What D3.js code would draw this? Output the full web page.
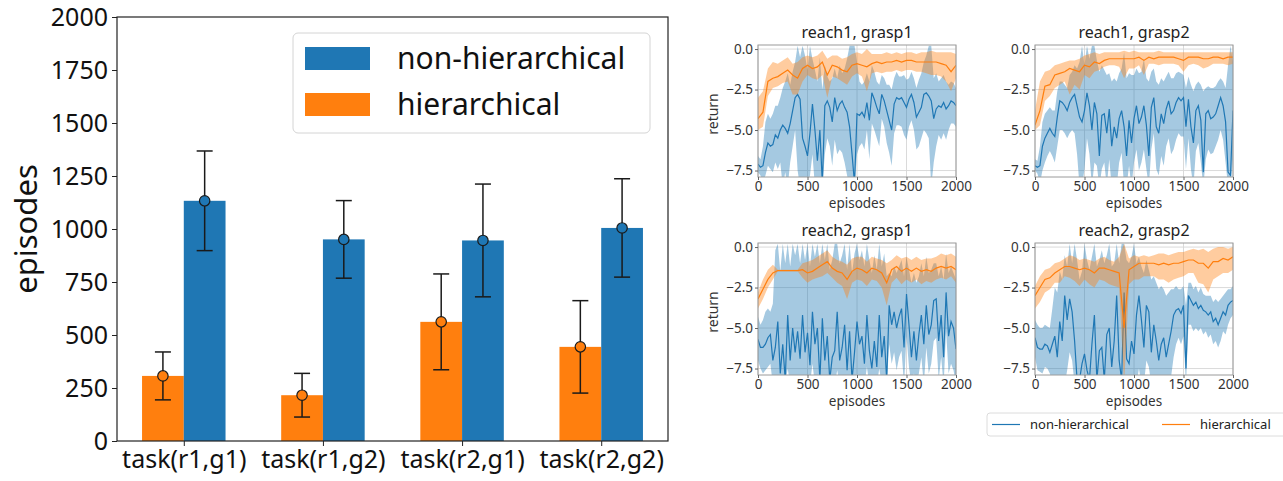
<!DOCTYPE html>
<html>
<head>
<meta charset="utf-8">
<script src="https://cdn.jsdelivr.net/npm/d3@7"></script>
<style>
body { margin: 0; background: #fff; }
svg { display: block; font-family: 'Noto Sans', sans-serif; }
</style>
</head>
<body>
<svg id="chart" width="1283" height="481"></svg>
<script>
// ---- bar chart data ----
var categories = ['task(r1,g1)', 'task(r1,g2)', 'task(r2,g1)', 'task(r2,g2)'];
var hierMean = [307, 216, 562, 444];
var hierStd = [113, 103, 226, 218];
var nonHierMean = [1133, 951, 946, 1005];
var nonHierStd = [235, 183, 266, 232];
var barYTicks = [0, 250, 500, 750, 1000, 1250, 1500, 1750, 2000];
var seriesNames = ['non-hierarchical', 'hierarchical'];

// ---- learning curve data ----
var panelTitles = ['reach1, grasp1', 'reach1, grasp2', 'reach2, grasp1', 'reach2, grasp2'];
var smallXTicks = [0, 500, 1000, 1500, 2000];
var smallYTicks = [0, -2.5, -5, -7.5];
var blueEpisodes = d3.range(0, 2001, 25);
var orangeEpisodes = d3.range(0, 2001, 50);

var p1BlueMean = [-7.1, -7.3, -7.2, -6.4, -5.8, -6.0, -5.9, -5.3, -5.5, -5.0,
    -4.7, -4.9, -5.2, -4.6, -3.8, -3.0, -2.8, -3.1, -5.5, -6.0,
    -6.6, -5.2, -3.4, -5.0, -6.9, -5.0, -8.3, -3.5, -3.2, -3.6,
    -4.5, -3.0, -3.8, -3.4, -3.2, -3.6, -3.9, -4.8, -6.5, -8.3,
    -4.0, -4.1, -3.9, -4.2, -3.3, -4.4, -2.7, -3.1, -3.6, -4.0,
    -2.8, -3.2, -3.8, -4.4, -5.0, -3.4, -3.0, -3.1, -3.0, -3.3,
    -3.6, -3.1, -2.8, -3.3, -4.2, -3.9, -3.6, -2.8, -2.7, -2.9,
    -3.2, -4.3, -3.7, -3.5, -3.6, -3.3, -3.7, -3.5, -3.2, -3.3, -3.5];
var p1BlueHi = [-6.6, -6.8, -6.0, -4.5, -4.0, -4.3, -4.0, -3.5, -3.5, -3.0,
    -2.4, -2.0, -1.5, -2.2, -1.4, -0.8, 0.2, -0.5, 0.2, -0.4,
    -1.3, 0.2, -0.6, -1.3, -2.0, -0.5, -2.5, -1.0, -1.7, -2.0,
    -1.8, -1.2, -1.8, -1.0, -1.5, -1.2, -0.6, 0.2, 0.2, 0.2,
    -0.8, -2.0, -2.2, -2.0, -1.5, -2.0, -1.0, -1.4, -2.0, -2.2,
    -1.6, -1.8, -2.2, -2.2, -2.5, -1.8, -1.4, -1.7, -1.7, -1.6,
    -1.9, -1.8, -1.4, -1.8, -2.4, -1.9, -1.5, -0.8, -0.4, 0.2,
    0.2, -1.8, -1.5, -2.0, -1.8, -1.6, -2.0, -2.2, -2.0, -2.1, -2.4];
var p1BlueLo = [-7.6, -7.8, -8.2, -7.8, -7.2, -7.4, -7.6, -7.0, -7.4, -7.0,
    -8.5, -7.6, -8.5, -7.0, -6.0, -5.0, -7.5, -8.5, -8.5, -8.5,
    -8.5, -7.8, -6.5, -8.5, -8.5, -8.5, -8.5, -6.5, -5.5, -6.0,
    -7.2, -5.6, -6.5, -6.2, -6.4, -7.0, -7.8, -8.5, -8.5, -8.5,
    -6.5, -6.0, -5.8, -6.2, -5.0, -6.8, -4.6, -5.0, -5.5, -6.0,
    -4.3, -4.8, -5.8, -6.4, -7.2, -5.2, -4.7, -4.7, -4.8, -5.3,
    -5.6, -4.8, -4.4, -5.0, -6.2, -6.0, -5.5, -5.0, -5.2, -5.5,
    -8.5, -7.0, -6.0, -5.3, -5.6, -5.2, -5.6, -5.0, -4.6, -4.6, -4.8];
var p1OrangeMean = [-4.3, -3.9, -2.0, -1.8, -1.7, -1.5, -1.3, -1.6, -1.8, -1.2,
    -1.0, -1.2, -1.1, -0.8, -1.6, -1.0, -1.1, -1.3, -1.4, -1.0,
    -0.9, -1.0, -1.1, -0.9, -0.8, -0.9, -0.8, -0.8, -0.7, -0.8,
    -0.7, -0.7, -0.8, -0.8, -0.8, -0.8, -0.8, -0.9, -1.0, -1.4, -1.0];
var p1OrangeHi = [-3.0, -2.6, -1.2, -0.8, -0.9, -0.7, -0.5, -0.9, -0.8, -0.5,
    -0.4, -0.5, -0.4, -0.1, -0.6, -0.4, -0.4, -0.6, -0.5, -0.3,
    -0.2, -0.3, 0.0, -0.3, -0.3, -0.3, -0.2, -0.3, -0.2, -0.3,
    -0.2, -0.2, -0.3, -0.2, -0.2, -0.1, -0.2, -0.2, -0.2, -0.2, -0.3];
var p1OrangeLo = [-5.0, -4.8, -2.9, -2.4, -2.3, -2.1, -2.0, -2.8, -2.8, -2.0,
    -1.6, -1.8, -1.9, -1.6, -3.0, -1.7, -1.8, -2.0, -2.2, -1.7,
    -1.5, -1.7, -2.6, -1.5, -1.4, -1.5, -1.4, -1.4, -1.3, -1.4,
    -1.3, -1.3, -1.4, -1.4, -1.5, -1.6, -1.6, -1.7, -2.0, -2.6, -1.8];

var p2BlueMean = [-7.2, -7.3, -7.2, -6.0, -5.5, -5.2, -4.9, -5.2, -5.4, -4.2,
    -3.2, -3.3, -3.5, -3.8, -3.3, -3.0, -2.8, -3.5, -4.2, -4.5,
    -3.8, -2.7, -3.5, -5.0, -3.3, -4.0, -6.6, -4.1, -4.0, -5.2,
    -3.7, -6.0, -4.8, -5.5, -4.3, -3.8, -4.8, -6.6, -4.4, -5.8,
    -4.3, -3.5, -4.6, -4.2, -3.5, -4.7, -6.6, -3.6, -3.0, -4.8,
    -5.2, -4.0, -4.6, -3.7, -3.2, -4.0, -3.8, -3.3, -3.0, -3.2,
    -3.0, -4.8, -3.1, -4.8, -5.8, -3.8, -3.5, -4.4, -7.6, -4.0,
    -3.8, -4.3, -4.2, -4.0, -3.5, -3.0, -3.5, -4.5, -7.6, -7.8, -3.8];
var p2BlueHi = [-6.8, -6.9, -6.0, -4.5, -4.0, -3.8, -3.6, -3.8, -3.8, -2.6,
    -2.0, -2.0, -2.2, -2.4, -1.6, -1.4, -1.0, -1.2, -0.8, 0.2,
    -1.0, 0.2, -0.6, 0.2, 0.2, -0.7, -1.4, -1.0, -1.3, -1.6,
    -1.5, -2.0, -1.8, -2.0, -1.5, -1.2, -0.2, -1.8, -1.5, -1.6,
    -1.6, -1.2, -1.5, -1.4, -0.6, -1.8, -2.0, -1.4, -1.2, -2.0,
    -2.2, -1.8, -2.0, -1.7, -1.4, -1.8, -1.8, -1.5, -1.4, -1.5,
    -1.6, -2.4, -1.7, -2.2, -2.6, -2.2, -2.0, -2.2, -2.6, -2.4,
    -2.3, -2.4, -2.4, -2.3, -2.0, -1.8, -2.0, -2.4, -1.0, 0.2, -0.8];
var p2BlueLo = [-7.5, -7.7, -8.3, -7.5, -7.0, -6.6, -6.3, -6.6, -7.0, -6.0,
    -5.0, -5.0, -5.2, -5.5, -5.2, -5.0, -5.2, -6.5, -8.5, -8.5,
    -7.4, -5.5, -6.5, -8.5, -7.0, -7.2, -8.5, -7.4, -7.0, -8.5,
    -6.8, -8.5, -8.0, -8.5, -7.0, -6.4, -8.5, -8.5, -7.2, -8.5,
    -7.0, -6.2, -7.5, -7.0, -6.2, -7.4, -8.5, -6.2, -5.2, -7.4,
    -7.8, -6.6, -7.2, -6.0, -5.5, -6.5, -6.2, -5.6, -5.2, -5.4,
    -5.4, -7.4, -5.5, -7.4, -8.5, -6.3, -5.8, -7.0, -8.5, -6.8,
    -6.2, -6.5, -6.4, -6.0, -5.6, -5.0, -5.6, -7.0, -8.5, -8.5, -6.8];
var p2OrangeMean = [-4.7, -3.8, -2.3, -2.2, -1.6, -1.5, -1.4, -1.2, -1.3, -1.4,
    -1.0, -1.1, -0.8, -0.9, -0.7, -0.6, -0.6, -0.6, -0.6, -0.6,
    -0.6, -0.5, -0.7, -0.5, -0.6, -0.5, -0.5, -0.5, -0.5, -0.6,
    -0.7, -0.5, -0.5, -0.5, -0.6, -0.6, -0.5, -0.5, -0.6, -0.5, -0.5];
var p2OrangeHi = [-3.8, -2.0, -1.4, -1.3, -1.0, -0.9, -0.8, -0.7, -0.7, -0.6,
    -0.4, -0.3, -0.2, -0.3, -0.2, -0.2, -0.2, -0.2, -0.1, -0.2,
    -0.1, -0.2, -0.2, -0.2, -0.2, -0.1, -0.2, -0.2, -0.2, -0.2,
    -0.2, -0.2, -0.2, -0.2, -0.2, -0.2, -0.2, -0.2, -0.2, -0.2, -0.2];
var p2OrangeLo = [-5.0, -4.7, -3.2, -2.9, -2.4, -2.2, -2.0, -2.8, -2.2, -2.5,
    -1.6, -1.8, -1.4, -1.3, -1.1, -1.0, -1.0, -1.1, -1.8, -1.2,
    -1.2, -1.0, -1.6, -0.9, -0.9, -1.0, -0.9, -0.9, -0.9, -1.0,
    -1.4, -1.0, -0.9, -1.0, -1.2, -1.1, -0.9, -0.9, -0.9, -1.0, -0.9];

var p3BlueMean = [-5.7, -6.2, -6.2, -6.0, -5.6, -5.4, -7.0, -6.2, -4.6, -7.8,
    -6.0, -8.2, -4.2, -7.0, -5.0, -6.5, -5.2, -6.9, -4.2, -6.5,
    -5.3, -7.3, -4.0, -6.0, -5.0, -8.2, -4.4, -7.0, -5.5, -8.2,
    -6.8, -6.4, -4.0, -7.0, -6.2, -4.8, -7.6, -5.2, -8.2, -6.5,
    -4.6, -6.0, -5.5, -7.2, -4.2, -6.4, -7.5, -5.8, -7.4, -4.2,
    -6.8, -5.5, -8.2, -3.6, -4.8, -4.0, -5.0, -4.3, -3.8, -6.2,
    -2.9, -4.8, -6.8, -5.2, -7.0, -5.4, -4.2, -6.0, -3.6, -5.4,
    -4.8, -3.3, -3.2, -5.8, -4.2, -6.8, -2.8, -5.5, -4.6, -5.0, -6.3];
var p3BlueHi = [-4.3, -4.8, -4.5, -4.0, -3.8, -4.0, -3.5, -0.2, 0.2, -1.5,
    0.2, -1.0, 0.2, -1.2, 0.2, -0.5, 0.2, -1.0, 0.2, -0.8,
    0.2, -1.2, 0.2, -0.6, 0.2, -1.0, 0.2, -0.8, 0.2, -1.4,
    -0.8, 0.2, 0.2, -1.0, -0.5, 0.2, -1.4, 0.2, -1.6, -0.4,
    0.2, -0.8, -0.2, -1.2, 0.2, -0.8, -1.6, -0.5, -1.4, 0.2,
    -1.2, -0.4, -1.8, -1.6, -1.8, -1.2, -1.6, -1.2, -0.8, -1.8,
    -0.6, -1.4, -2.2, -1.6, -2.2, -1.8, -1.0, -1.8, -0.6, -1.6,
    -1.4, -1.0, -1.0, -1.8, -1.2, -2.0, -0.4, -1.6, -1.2, -1.6, -2.0];
var p3BlueLo = [-7.0, -7.5, -7.8, -7.6, -7.4, -7.2, -8.5, -8.5, -8.5, -8.5,
    -8.5, -8.5, -7.5, -8.5, -8.5, -8.5, -8.5, -8.5, -8.5, -8.5,
    -8.5, -8.5, -7.2, -8.5, -8.5, -8.5, -8.5, -8.5, -8.5, -8.5,
    -8.5, -8.5, -7.6, -8.5, -8.5, -8.5, -8.5, -8.5, -8.5, -8.5,
    -7.8, -8.5, -8.5, -8.5, -7.4, -8.5, -8.5, -8.5, -8.5, -7.5,
    -8.5, -8.5, -8.5, -6.0, -7.2, -6.5, -7.6, -6.8, -6.4, -8.5,
    -5.5, -7.4, -8.5, -7.8, -8.5, -7.8, -6.8, -8.5, -6.2, -7.8,
    -7.2, -5.8, -5.6, -8.2, -6.8, -8.5, -5.2, -7.8, -7.2, -7.6, -8.5];
var p3OrangeMean = [-3.2, -2.6, -2.0, -1.6, -1.45, -1.45, -1.45, -1.45, -1.45, -1.4,
    -1.6, -1.5, -1.3, -1.1, -0.9, -1.3, -1.5, -1.6, -2.0, -1.5,
    -1.3, -1.4, -1.6, -1.3, -1.4, -1.6, -2.2, -1.4, -1.2, -1.5,
    -1.3, -1.5, -1.3, -1.5, -1.4, -1.5, -1.3, -1.2, -1.3, -1.2, -1.4];
var p3OrangeHi = [-2.8, -2.0, -1.4, -1.1, -1.4, -1.4, -1.4, -1.4, -1.4, -1.0,
    -0.9, -0.8, -0.6, -0.4, -0.2, -0.6, -0.8, -0.9, -1.1, -0.7,
    -0.6, -0.6, -0.9, -0.6, -0.7, -0.8, -1.0, -0.8, -0.5, -0.7,
    -0.6, -0.8, -0.6, -0.8, -0.7, -0.7, -0.6, -0.4, -0.5, -0.4, -0.6];
var p3OrangeLo = [-3.8, -3.2, -2.5, -2.0, -1.5, -1.5, -1.5, -1.5, -1.5, -1.9,
    -2.2, -2.0, -1.9, -1.8, -1.6, -1.9, -2.2, -2.4, -3.2, -2.2,
    -2.0, -2.1, -2.4, -2.0, -2.1, -2.5, -3.6, -2.2, -1.9, -2.3,
    -2.0, -2.2, -2.0, -2.3, -2.1, -2.2, -2.0, -1.9, -2.0, -1.8, -2.2];

var p4BlueMean = [-5.6, -6.2, -6.3, -6.3, -6.0, -6.1, -6.5, -6.0, -5.5, -6.8,
    -4.6, -5.8, -3.0, -4.5, -3.2, -4.0, -5.8, -8.2, -8.2, -7.2,
    -6.6, -7.6, -8.2, -6.0, -4.2, -8.2, -6.4, -6.2, -8.2, -5.4,
    -5.0, -7.4, -5.8, -3.0, -7.0, -8.2, -2.8, -6.9, -7.2, -5.8,
    -6.6, -4.2, -3.0, -4.5, -6.2, -3.6, -4.0, -6.5, -4.8, -5.8,
    -7.0, -6.0, -5.6, -6.8, -6.0, -5.2, -4.2, -3.9, -3.8, -4.1,
    -3.6, -7.5, -3.0, -3.3, -3.6, -3.4, -3.8, -3.6, -3.9, -4.0,
    -4.2, -4.0, -4.6, -4.4, -4.8, -4.4, -4.0, -4.2, -3.6, -3.4, -3.3];
var p4BlueHi = [-4.5, -4.8, -5.0, -5.0, -4.8, -4.9, -5.0, -3.8, -2.5, -2.8,
    -1.5, -2.0, -0.5, -1.2, 0.2, -1.0, 0.2, -0.8, -2.0, -1.5,
    0.2, -0.8, -1.4, -0.6, 0.2, -1.2, -0.8, -0.2, -1.0, -0.5,
    0.2, -1.2, -1.0, 0.2, -1.0, 0.2, 0.2, -0.8, -1.0, -0.6,
    0.2, -1.0, -0.6, -1.2, -1.6, -0.8, -1.4, -2.0, -1.8, -2.2,
    -2.6, -2.4, -2.6, -3.0, -2.8, -2.6, -2.6, -2.4, -2.6, -2.6,
    -2.4, -3.6, -2.2, -2.2, -2.6, -2.4, -2.8, -2.5, -2.9, -3.0,
    -3.0, -3.0, -3.4, -3.2, -3.4, -3.2, -3.0, -2.8, -2.6, -2.6, -2.4];
var p4BlueLo = [-6.8, -7.6, -7.7, -7.8, -7.4, -7.5, -7.8, -8.5, -8.5, -8.5,
    -8.5, -8.5, -8.5, -7.6, -6.5, -7.0, -8.5, -8.5, -8.5, -8.5,
    -8.5, -8.5, -8.5, -8.5, -8.5, -8.5, -8.5, -8.5, -8.5, -8.5,
    -8.5, -8.5, -8.5, -8.5, -8.5, -8.5, -8.5, -8.5, -8.5, -8.5,
    -8.5, -8.5, -7.5, -8.5, -8.5, -7.0, -7.4, -8.5, -8.5, -8.5,
    -8.5, -8.5, -8.5, -8.5, -8.5, -8.0, -6.8, -6.0, -5.6, -6.0,
    -5.5, -8.5, -4.8, -4.8, -5.2, -5.0, -5.2, -5.0, -5.4, -5.2,
    -5.6, -5.4, -6.0, -5.8, -6.2, -5.8, -5.2, -5.4, -4.8, -4.4, -4.2];
var p4OrangeMean = [-3.0, -2.5, -2.0, -1.9, -1.6, -1.4, -1.2, -1.2, -1.3, -1.4,
    -1.3, -1.4, -1.6, -1.3, -1.3, -1.4, -1.5, -1.6, -5.0, -1.4,
    -1.2, -1.0, -1.0, -1.0, -1.0, -1.1, -1.0, -1.1, -1.0, -1.0,
    -0.9, -0.8, -0.8, -1.0, -1.0, -1.3, -0.9, -0.9, -0.7, -0.8, -0.6];
var p4OrangeHi = [-2.4, -1.8, -1.4, -1.3, -1.0, -0.9, -0.7, -0.5, -0.6, -0.8,
    -0.7, -0.8, -0.9, -0.7, -0.6, -0.8, -0.9, -0.6, 0.2, -0.7,
    -0.5, -0.6, -0.5, -0.6, -0.5, -0.4, -0.4, -0.5, -0.4, -0.3,
    -0.3, -0.2, -0.1, -0.2, -0.1, -0.3, -0.1, 0.0, 0.0, -0.1, 0.0];
var p4OrangeLo = [-3.8, -3.4, -2.8, -2.6, -2.2, -2.2, -1.8, -1.9, -2.1, -2.4,
    -2.0, -2.3, -2.5, -2.0, -2.1, -2.3, -2.4, -2.5, -8.5, -2.3,
    -2.0, -2.0, -1.8, -1.8, -1.8, -2.0, -2.0, -2.2, -2.0, -1.9,
    -1.8, -1.6, -1.6, -2.2, -2.3, -2.8, -2.0, -1.8, -1.6, -1.6, -1.4];

var BLUE = '#1f77b4', ORANGE = '#ff7f0e';
var svg = d3.select('#chart');

// ================= bar chart =================
var bx = d3.scaleLinear().domain([-0.48, 3.48]).range([117, 668]);
var by = d3.scaleLinear().domain([0, 2000]).range([441, 17]);
var bw = bx(0.3) - bx(0);

var yAxis = svg.append('g')
    .attr('transform', 'translate(117,0)')
    .call(d3.axisLeft(by).tickValues(barYTicks).tickSize(5).tickPadding(4).tickFormat(d3.format('d')));
var xAxis = svg.append('g')
    .attr('transform', 'translate(0,441)')
    .call(d3.axisBottom(bx).tickValues([0, 1, 2, 3]).tickSize(5).tickPadding(4)
        .tickFormat(function(d) { return categories[d]; }));
[yAxis, xAxis].forEach(function(a) {
    a.select('.domain').remove();
    a.selectAll('text').style('font-size', '25px').attr('fill', '#111')
        .style('font-family', "'Noto Sans', sans-serif");
    a.selectAll('line').attr('stroke', '#222');
});

function drawBars(means, offset, color) {
    svg.append('g').selectAll('rect').data(means).enter().append('rect')
        .attr('x', function(d, i) { return bx(i + offset); })
        .attr('y', function(d) { return by(d); })
        .attr('width', bw)
        .attr('height', function(d) { return by(0) - by(d); })
        .attr('fill', color);
}
function drawErrors(means, stds, offset, color) {
    var g = svg.append('g');
    means.forEach(function(m, i) {
        var cx = bx(i + offset + 0.15);
        var top = by(m + stds[i]), bot = by(m - stds[i]);
        g.append('line').attr('x1', cx).attr('x2', cx).attr('y1', top).attr('y2', bot)
            .attr('stroke', '#1a1a1a').attr('stroke-width', 1.5);
        [top, bot].forEach(function(yy) {
            g.append('line').attr('x1', cx - 8).attr('x2', cx + 8).attr('y1', yy).attr('y2', yy)
                .attr('stroke', '#1a1a1a').attr('stroke-width', 1.5);
        });
        g.append('circle').attr('cx', cx).attr('cy', by(m)).attr('r', 5.2)
            .attr('fill', color).attr('stroke', '#1a1a1a').attr('stroke-width', 1.2);
    });
}
drawBars(hierMean, -0.3, ORANGE);
drawBars(nonHierMean, 0, BLUE);
drawErrors(hierMean, hierStd, -0.3, ORANGE);
drawErrors(nonHierMean, nonHierStd, 0, BLUE);

svg.append('rect').attr('x', 117).attr('y', 17).attr('width', 551).attr('height', 424)
    .attr('fill', 'none').attr('stroke', '#222').attr('stroke-width', 1.2);

svg.append('text').attr('transform', 'translate(37,229) rotate(-90)')
    .attr('text-anchor', 'middle').style('font-size', '31px').attr('fill', '#111')
    .text('episodes');

// legend
var leg = svg.append('g');
leg.append('rect').attr('x', 293).attr('y', 33).attr('width', 357).attr('height', 100)
    .attr('rx', 5).attr('fill', '#fff').attr('stroke', '#d4d4d4');
[BLUE, ORANGE].forEach(function(c, i) {
    leg.append('rect').attr('x', 305).attr('y', 47 + i * 46).attr('width', 65).attr('height', 23)
        .attr('fill', c);
    leg.append('text').attr('x', 397).attr('y', 69 + i * 46).style('font-size', '30px')
        .attr('fill', '#111').text(seriesNames[i]);
});

// ================= learning curves =================
var PW = 198, PH = 132;
var panels = [
    { left: 758, top: 45, ylabel: true, blue: [p1BlueMean, p1BlueLo, p1BlueHi], orange: [p1OrangeMean, p1OrangeLo, p1OrangeHi] },
    { left: 1035, top: 45, ylabel: false, blue: [p2BlueMean, p2BlueLo, p2BlueHi], orange: [p2OrangeMean, p2OrangeLo, p2OrangeHi] },
    { left: 758, top: 243, ylabel: true, blue: [p3BlueMean, p3BlueLo, p3BlueHi], orange: [p3OrangeMean, p3OrangeLo, p3OrangeHi] },
    { left: 1035, top: 243, ylabel: false, blue: [p4BlueMean, p4BlueLo, p4BlueHi], orange: [p4OrangeMean, p4OrangeLo, p4OrangeHi] }
];

function drawPanel(p, idx) {
    var x = d3.scaleLinear().domain([0, 2000]).range([p.left, p.left + PW]);
    var y = d3.scaleLinear().domain([-7.9, 0.25]).range([p.top + PH, p.top]);
    var g = svg.append('g');
    var clipId = 'clip' + idx;
    svg.append('clipPath').attr('id', clipId).append('rect')
        .attr('x', p.left).attr('y', p.top).attr('width', PW).attr('height', PH);

    // grid
    g.selectAll('.vg').data(smallXTicks).enter().append('line')
        .attr('x1', function(d) { return x(d); }).attr('x2', function(d) { return x(d); })
        .attr('y1', p.top).attr('y2', p.top + PH)
        .attr('stroke', '#d6d6d6').attr('stroke-width', 0.9);
    g.selectAll('.hg').data(smallYTicks).enter().append('line')
        .attr('y1', function(d) { return y(d); }).attr('y2', function(d) { return y(d); })
        .attr('x1', p.left).attr('x2', p.left + PW)
        .attr('stroke', '#d6d6d6').attr('stroke-width', 0.9);

    var plot = g.append('g').attr('clip-path', 'url(#' + clipId + ')');
    function series(eps, s, color) {
        var band = d3.area()
            .x(function(d) { return x(d); })
            .y0(function(d, i) { return y(s[1][i]); })
            .y1(function(d, i) { return y(s[2][i]); });
        var line = d3.line()
            .x(function(d) { return x(d); })
            .y(function(d, i) { return y(s[0][i]); });
        plot.append('path').datum(eps).attr('d', band).attr('fill', color).attr('fill-opacity', 0.4);
        plot.append('path').datum(eps).attr('d', line).attr('fill', 'none')
            .attr('stroke', color).attr('stroke-width', 1.2);
    }
    series(blueEpisodes, p.blue, BLUE);
    series(orangeEpisodes, p.orange, ORANGE);

    g.append('rect').attr('x', p.left).attr('y', p.top).attr('width', PW).attr('height', PH)
        .attr('fill', 'none').attr('stroke', '#9a9a9a').attr('stroke-width', 1);

    var ax = g.append('g').attr('transform', 'translate(0,' + (p.top + PH) + ')')
        .call(d3.axisBottom(x).tickValues(smallXTicks).tickSize(3).tickPadding(1).tickFormat(d3.format('d')));
    var ay = g.append('g').attr('transform', 'translate(' + p.left + ',0)')
        .call(d3.axisLeft(y).tickValues(smallYTicks).tickSize(3).tickPadding(2)
            .tickFormat(d3.format('.1f')));
    [ax, ay].forEach(function(a) {
        a.select('.domain').remove();
        a.selectAll('line').attr('stroke', '#666');
        a.selectAll('text').style('font-size', '13.5px').attr('fill', '#333')
            .style('font-family', "'Noto Sans', sans-serif");
    });

    g.append('text').attr('x', p.left + PW / 2).attr('y', p.top - 7).attr('text-anchor', 'middle')
        .style('font-size', '16px').attr('fill', '#222').text(panelTitles[idx]);
    g.append('text').attr('x', p.left + PW / 2).attr('y', p.top + PH + 31).attr('text-anchor', 'middle')
        .style('font-size', '13.5px').attr('fill', '#333').text('episodes');
    if (p.ylabel) {
        g.append('text').attr('transform', 'translate(' + (p.left - 40) + ',' + (p.top + PH / 2 + 3) + ') rotate(-90)')
            .attr('text-anchor', 'middle').style('font-size', '14px').attr('fill', '#333').text('return');
    }
}
panels.forEach(drawPanel);

// bottom legend for the curves
var leg2 = svg.append('g');
leg2.append('rect').attr('x', 987).attr('y', 413).attr('width', 310).attr('height', 23)
    .attr('rx', 3).attr('fill', '#fff').attr('stroke', '#dcdcdc');
[BLUE, ORANGE].forEach(function(c, i) {
    var x0 = i === 0 ? 992 : 1162;
    leg2.append('line').attr('x1', x0).attr('x2', x0 + 28).attr('y1', 424.5).attr('y2', 424.5)
        .attr('stroke', c).attr('stroke-width', 1.2);
    leg2.append('text').attr('x', x0 + 38).attr('y', 429).style('font-size', '13px')
        .attr('fill', '#222').text(seriesNames[i]);
});
</script>
</body>
</html>
